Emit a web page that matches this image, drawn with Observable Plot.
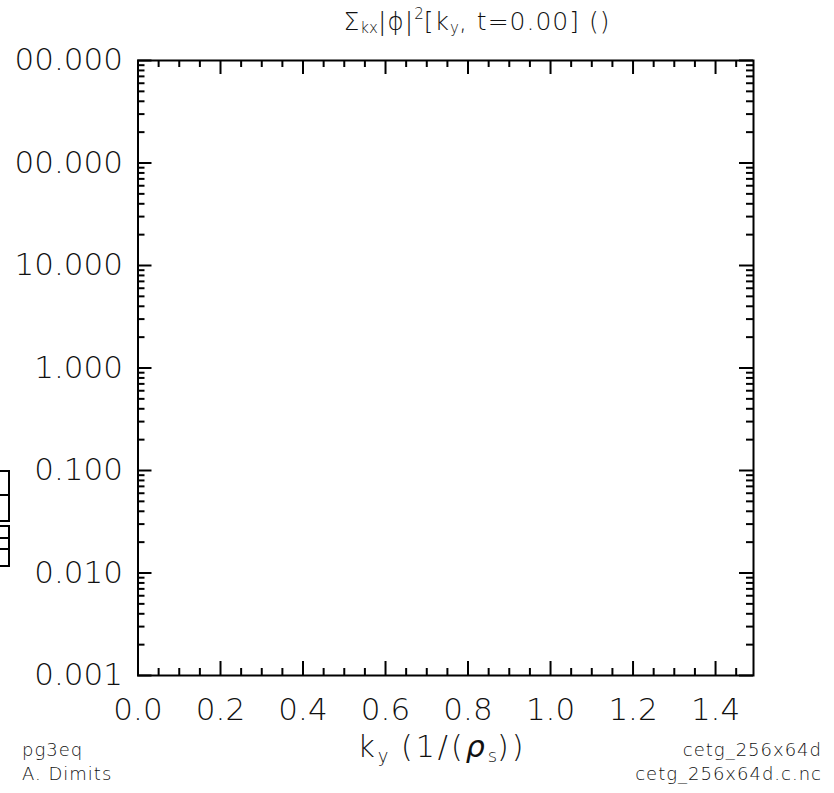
<!DOCTYPE html>
<html>
<head>
<meta charset="utf-8">
<script src="https://cdn.jsdelivr.net/npm/d3@7"></script>
<script src="https://cdn.jsdelivr.net/npm/@observablehq/plot@0.6"></script>
<style>
  html, body { margin: 0; padding: 0; background: #fff; }
  #wrap { position: relative; width: 834px; height: 793px; overflow: hidden; font-family: "DejaVu Sans", sans-serif; color: #111; }
  #chart { position: absolute; left: 0; top: 0; }
  #chart svg text { font-weight: 200; }
  .abs { position: absolute; white-space: nowrap; line-height: 1; }
  #title { left: 0; width: 954px; top: 7px; text-align: center; font-size: 25px; font-weight: 300; letter-spacing: 1px; }
  #xlabel { left: 0; width: 884px; top: 732px; text-align: center; font-size: 30px; font-weight: 300; letter-spacing: 3px; }
  sub { font-size: 60%; vertical-align: -0.25em; letter-spacing: 0; }
  sup { font-size: 60%; vertical-align: 0.7em; letter-spacing: 0; }
  .foot { font-size: 18px; font-weight: 300; letter-spacing: 1px; }
  .box { position: absolute; left: -2px; width: 8px; border: 2px solid #000; background: #fff; }
</style>
</head>
<body>
<div id="wrap">
  <div id="chart"></div>
  <div id="title" class="abs">&Sigma;<sub>kx</sub>|&#981;|<sup>2</sup>[k<sub>y</sub>, t=0.00] ()</div>
  <div id="xlabel" class="abs">k<sub>y</sub> (1/(<b><i>&rho;</i></b><sub>s</sub>))</div>
  <div class="abs foot" style="left:22px; top:741px;">pg3eq</div>
  <div class="abs foot" style="left:22px; top:765px;">A. Dimits</div>
  <div class="abs foot" style="right:12px; top:741px;">cetg_256x64d</div>
  <div class="abs foot" style="right:12px; top:765px;">cetg_256x64d.c.nc</div>
  <div class="box" style="top:470px; height:22px;"></div>
  <div class="box" style="top:494px; height:24px;"></div>
  <div class="box" style="top:525px; height:10px;"></div>
  <div class="box" style="top:537px; height:9px;"></div>
  <div class="box" style="top:548px; height:15px;"></div>
</div>
<script>
// Axis domains
const xDomain = [0, 1.492];
const yDomain = [0.001, 1000];

// Tick values and labels
const xTickValues = [0.0, 0.2, 0.4, 0.6, 0.8, 1.0, 1.2, 1.4];
const xTickLabels = ["0.0", "0.2", "0.4", "0.6", "0.8", "1.0", "1.2", "1.4"];
const xMinorTicks = [0.05, 0.1, 0.15, 0.25, 0.3, 0.35, 0.45, 0.5, 0.55, 0.65, 0.7, 0.75,
                     0.85, 0.9, 0.95, 1.05, 1.1, 1.15, 1.25, 1.3, 1.35, 1.45];
const yTickValues = [0.001, 0.01, 0.1, 1, 10, 100, 1000];
const yTickLabels = ["0.001", "0.010", "0.100", "1.000", "10.000", "00.000", "00.000"];
const yMinorMultipliers = [2, 3, 4, 5, 6, 7, 8, 9];
const yMinorTicks = yTickValues.slice(0, -1).flatMap(d => yMinorMultipliers.map(m => d * m));

const W = 834, H = 793;
const mL = 137.5, mR = 81, mT = 60, mB = 118;
const fw = W - mL - mR, fh = H - mT - mB;
const major = 14, minor = 7;

const plot = Plot.plot({
  width: W,
  height: H,
  marginLeft: mL,
  marginRight: mR,
  marginTop: mT,
  marginBottom: mB,
  style: { fontFamily: "DejaVu Sans, sans-serif", background: "transparent", color: "#111" },
  x: { domain: xDomain, axis: null },
  y: { type: "log", domain: yDomain, axis: null },
  marks: [
    Plot.tickY(yTickValues, { y: d => d, insetRight: fw - major, stroke: "black", strokeWidth: 2 }),
    Plot.tickY(yMinorTicks, { y: d => d, insetRight: fw - minor, stroke: "black", strokeWidth: 2 }),
    Plot.tickY(yTickValues, { y: d => d, insetLeft: fw - major, stroke: "black", strokeWidth: 2 }),
    Plot.tickY(yMinorTicks, { y: d => d, insetLeft: fw - minor, stroke: "black", strokeWidth: 2 }),
    Plot.tickX(xTickValues, { x: d => d, insetTop: fh - major, stroke: "black", strokeWidth: 2 }),
    Plot.tickX(xMinorTicks, { x: d => d, insetTop: fh - minor, stroke: "black", strokeWidth: 2 }),
    Plot.tickX(xTickValues, { x: d => d, insetBottom: fh - major, stroke: "black", strokeWidth: 2 }),
    Plot.tickX(xMinorTicks, { x: d => d, insetBottom: fh - minor, stroke: "black", strokeWidth: 2 }),
    Plot.frame({ stroke: "black", strokeWidth: 2 }),
    Plot.text(yTickValues, { y: d => d, text: (d, i) => yTickLabels[i], frameAnchor: "left",
      textAnchor: "end", dx: -15, fontSize: 31, fill: "#111" }),
    Plot.text(xTickValues, { x: d => d, text: (d, i) => xTickLabels[i], frameAnchor: "bottom",
      dy: 44, fontSize: 31, fill: "#111" })
  ]
});
document.getElementById("chart").appendChild(plot);
</script>
</body>
</html>
